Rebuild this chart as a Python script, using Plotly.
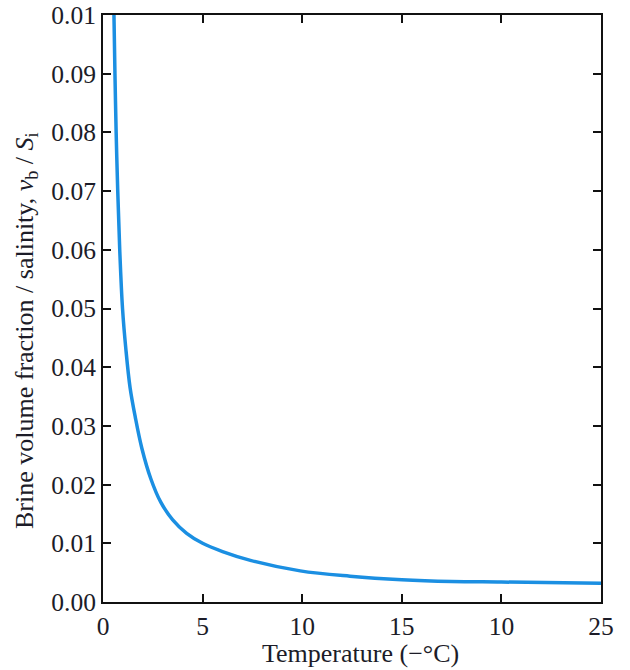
import plotly.graph_objects as go

# Data
temperature = [0.55, 0.60, 0.66, 0.74, 0.84, 0.98, 1.15, 1.36, 1.62, 1.95, 2.4, 2.9, 3.5, 4.2, 5.0, 6.0, 7.4, 9.9, 12.4, 15.0, 17.5, 20.0, 25.0]
brine_ratio = [0.100, 0.090, 0.080, 0.070, 0.060, 0.050, 0.043, 0.0365, 0.0315, 0.0262, 0.021, 0.017, 0.014, 0.0117, 0.0100, 0.0086, 0.0071, 0.0053, 0.0044, 0.0038, 0.0035, 0.0034, 0.0032]

x_tickvals = [0, 5, 10, 15, 20, 25]
x_ticktext = ["0", "5", "10", "15", "10", "25"]
y_tickvals = [0.00, 0.01, 0.02, 0.03, 0.04, 0.05, 0.06, 0.07, 0.08, 0.09, 0.10]
y_ticktext = ["0.00", "0.01", "0.02", "0.03", "0.04", "0.05", "0.06", "0.07", "0.08", "0.09", "0.01"]

x_title = "Temperature (\u2212\u00b0C)"
y_title = "Brine volume fraction / salinity, <i>v</i><sub>b</sub> / <i>S</i><sub>i</sub>"

font_family = "Liberation Serif"
text_color = "#1c1c28"

fig = go.Figure()
fig.add_trace(go.Scatter(
    x=temperature, y=brine_ratio, mode="lines",
    line=dict(color="#1b8fe2", width=3.5, shape="spline", smoothing=1.0),
    showlegend=False, hoverinfo="skip",
))

axis_common = dict(
    showline=True, linecolor="#111111", linewidth=2, mirror="ticks",
    ticks="inside", ticklen=8, tickwidth=2, tickcolor="#111111",
    showgrid=False, zeroline=False, automargin=False,
    tickfont=dict(family=font_family, size=25.5, color=text_color),
)

fig.update_layout(
    width=630, height=670,
    margin=dict(l=103, r=29, t=15, b=68),
    paper_bgcolor="white", plot_bgcolor="white",
    font=dict(family=font_family, color=text_color),
    xaxis=dict(range=[0, 25], tickvals=x_tickvals, ticktext=x_ticktext, **axis_common),
    yaxis=dict(range=[0, 0.10], tickvals=y_tickvals, ticktext=y_ticktext,
               ticklabeloverflow="allow", **axis_common),
    annotations=[
        dict(text=x_title, xref="paper", yref="paper", x=0.518, y=-0.087,
             xanchor="center", yanchor="middle", showarrow=False,
             font=dict(family=font_family, size=26, color=text_color)),
        dict(text=y_title, xref="paper", yref="paper", x=-0.155, y=0.463,
             xanchor="center", yanchor="middle", showarrow=False, textangle=-90,
             font=dict(family=font_family, size=26, color=text_color)),
    ],
)

# remove the browser's default body margin so the figure fills the window exactly
fig.write_html("out.html", config={"displayModeBar": False},
               post_script="document.body.style.margin='0';")
